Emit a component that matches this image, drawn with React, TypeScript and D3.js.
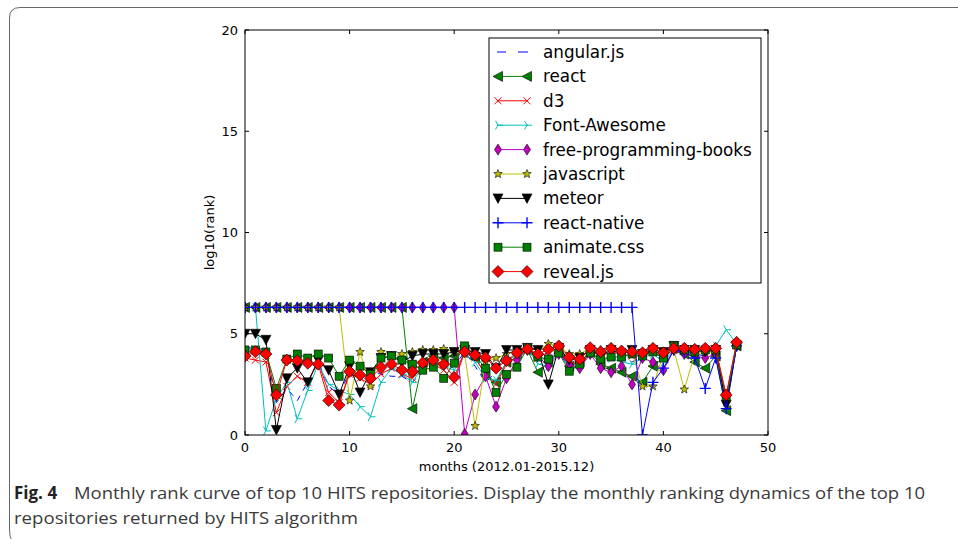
import React from "react";
import * as d3 from "d3";

const months = d3.range(48);

const seriesNames = [
  "angular.js",
  "react",
  "d3",
  "Font-Awesome",
  "free-programming-books",
  "javascript",
  "meteor",
  "react-native",
  "animate.css",
  "reveal.js",
];

const P = 6.3;
const plateau = (n: number) => Array(n).fill(P);

const angularjs = [4.3, 4.3, 4.2, 1.6, 2.3, 1.7, 2.6, 3.6, 2.4, 2.0, 3.1, 2.7, 3.2, 3.0, 2.9, 2.9, 2.6, 3.2, 3.5, 3.3, 3.4, 4.1, 3.4, 2.6, 3.1, 3.5, 3.9, 4.2, 3.6, 3.9, 4.1, 3.3, 3.3, 4.0, 3.8, 3.7, 3.8, 3.6, 3.9, 4.0, 3.9, 4.2, 4.1, 4.0, 3.9, 4.0, 1.4, 4.4];
const react = [...plateau(16), 1.3, 3.6, 3.9, 3.8, 3.9, 4.2, 3.8, 3.0, 2.6, 3.6, 4.0, 4.2, 3.1, 3.6, 4.1, 3.4, 3.6, 4.1, 3.5, 3.3, 3.1, 2.9, 2.6, 3.4, 3.8, 4.3, 4.0, 3.6, 3.3, 3.9, 1.2, 4.4];
const d3repo = [3.8, 3.7, 3.6, 1.1, 2.4, 2.9, 2.6, 3.6, 2.1, 1.6, 3.0, 2.8, 2.5, 3.0, 3.3, 3.0, 2.8, 3.4, 3.5, 3.2, 2.6, 4.1, 3.8, 3.0, 2.5, 3.5, 3.9, 4.2, 3.8, 4.1, 4.3, 3.6, 3.5, 4.2, 3.9, 4.1, 4.0, 3.9, 3.9, 4.2, 3.9, 4.2, 4.2, 4.1, 4.2, 4.2, 1.8, 4.5];
const fontAwesome = [6.3, 6.3, 0.2, 1.8, 2.6, 0.8, 2.2, 3.5, 2.5, 2.2, 2.0, 1.4, 0.9, 2.6, 3.3, 3.0, 2.6, 3.4, 3.7, 3.4, 3.2, 4.0, 3.6, 2.8, 2.7, 3.6, 4.0, 4.3, 3.5, 3.4, 4.2, 3.3, 3.4, 4.1, 3.7, 3.8, 3.6, 3.5, 3.8, 4.0, 3.6, 4.2, 4.1, 4.2, 4.1, 4.4, 5.2, 4.5];
const freeProgrammingBooks = [...plateau(21), 0.05, 2.0, 2.9, 1.4, 2.8, 3.7, 4.2, 3.9, 3.4, 4.0, 3.5, 3.3, 4.0, 3.3, 3.1, 3.4, 2.5, 3.8, 3.6, 3.2, 4.2, 4.0, 3.9, 3.8, 4.0, 1.6, 4.4];
const javascript = [...plateau(10), 1.7, 4.1, 2.4, 4.1, 3.9, 4.0, 4.1, 4.2, 4.2, 4.25, 4.1, 4.0, 0.45, 3.6, 3.8, 4.0, 4.2, 4.3, 4.2, 4.5, 4.4, 4.0, 4.0, 4.3, 4.2, 4.3, 4.2, 4.1, 2.4, 2.4, 4.0, 4.2, 2.25, 4.0, 4.1, 4.1, 1.6, 4.4];
const meteor = [5.0, 5.0, 4.7, 0.25, 2.8, 3.3, 2.6, 3.7, 3.2, 2.0, 3.4, 2.1, 3.1, 3.8, 3.9, 3.6, 3.9, 4.0, 4.0, 4.0, 4.1, 4.2, 4.1, 4.0, 3.3, 4.2, 4.2, 4.3, 4.2, 2.5, 4.3, 3.7, 3.8, 4.2, 3.9, 4.2, 4.0, 4.2, 4.0, 4.2, 4.1, 4.4, 4.2, 4.2, 4.1, 4.2, 1.5, 4.4];
const reactNative = [...plateau(38), 0.0, 2.6, 3.3, 4.2, 4.1, 3.8, 2.3, 3.8, 1.3, 4.4];
const animateCss = [4.2, 4.2, 4.1, 2.3, 3.75, 4.0, 3.8, 4.0, 3.8, 2.9, 3.7, 3.4, 3.0, 3.8, 3.9, 3.7, 3.5, 3.2, 3.35, 2.8, 3.55, 4.4, 3.9, 3.3, 2.1, 3.0, 3.35, 4.3, 3.85, 3.75, 4.05, 3.15, 3.5, 4.05, 3.75, 3.85, 3.85, 4.0, 3.9, 4.1, 3.8, 4.4, 4.2, 4.1, 4.2, 4.2, 1.9, 4.45];
const revealJs = [3.9, 4.11, 4.0, 1.98, 3.7, 3.67, 3.54, 3.5, 1.7, 1.48, 3.13, 2.96, 2.8, 3.34, 3.5, 3.21, 3.13, 3.57, 3.7, 3.5, 2.85, 4.11, 3.95, 3.82, 3.3, 3.67, 4.06, 4.25, 4.0, 4.23, 4.4, 3.84, 3.74, 4.31, 4.11, 4.28, 4.15, 4.11, 4.06, 4.28, 4.06, 4.28, 4.28, 4.23, 4.28, 4.28, 1.98, 4.58];

const seriesValues = [angularjs, react, d3repo, fontAwesome, freeProgrammingBooks, javascript, meteor, reactNative, animateCss, revealJs];

const xTicks = [0, 10, 20, 30, 40, 50];
const yTicks = [0, 5, 10, 15, 20];

type Style = { color: string; marker: string; dash?: string };
const styles: Style[] = [
  { color: "#0000ff", marker: "none", dash: "6,6" },
  { color: "#008000", marker: "<" },
  { color: "#ff0000", marker: "x" },
  { color: "#00bfbf", marker: "4" },
  { color: "#bf00bf", marker: "d" },
  { color: "#bfbf00", marker: "*" },
  { color: "#000000", marker: "v" },
  { color: "#0000ff", marker: "+" },
  { color: "#008000", marker: "s" },
  { color: "#ff0000", marker: "D" },
];

function starPath(ro: number, ri: number) {
  const pts: string[] = [];
  for (let i = 0; i < 10; i++) {
    const r = i % 2 === 0 ? ro : ri;
    const a = -Math.PI / 2 + (i * Math.PI) / 5;
    pts.push(`${(r * Math.cos(a)).toFixed(2)},${(r * Math.sin(a)).toFixed(2)}`);
  }
  return "M" + pts.join("L") + "Z";
}

function markerEl(m: string, color: string, x: number, y: number, key: string) {
  const t = `translate(${x},${y})`;
  const edge = { stroke: "#000", strokeWidth: 0.6 };
  switch (m) {
    case "<":
      return <path key={key} transform={t} d="M-5,0L4.5,-5L4.5,5Z" fill={color} {...edge} />;
    case "v":
      return <path key={key} transform={t} d="M-5,-4.5L5,-4.5L0,5Z" fill={color} {...edge} />;
    case "s":
      return <rect key={key} x={x - 4} y={y - 4} width={8} height={8} fill={color} {...edge} />;
    case "D":
      return <path key={key} transform={t} d="M0,-6L6,0L0,6L-6,0Z" fill={color} {...edge} />;
    case "d":
      return <path key={key} transform={t} d="M0,-5.5L3.5,0L0,5.5L-3.5,0Z" fill={color} {...edge} />;
    case "*":
      return <path key={key} transform={t} d={starPath(4.5, 1.9)} fill={color} {...edge} />;
    case "x":
      return <path key={key} transform={t} d="M-3.5,-3.5L3.5,3.5M-3.5,3.5L3.5,-3.5" stroke={color} strokeWidth={1} fill="none" />;
    case "+":
      return <path key={key} transform={t} d="M-5.5,0L5.5,0M0,-5.5L0,5.5" stroke={color} strokeWidth={1.4} fill="none" />;
    case "4":
      return <path key={key} transform={t} d="M0,0L5,0M0,0L-2.5,-4.33M0,0L-2.5,4.33" stroke={color} strokeWidth={1} fill="none" />;
    default:
      return null;
  }
}

export default function App() {
  const W = 958, H = 539;
  const x = d3.scaleLinear().domain([0, 50]).range([245, 768]);
  const y = d3.scaleLinear().domain([0, 20]).range([435, 30]);
  const line = d3.line<number>().x((_, i) => x(months[i])).y((v) => y(v));

  const [x0, x1] = x.range();
  const [y0, y1] = y.range();

  const legX = 489, legY = 38, legW = 272, legH = 245;
  const rowY = (i: number) => 52 + i * 24.4;

  const tickFont = "'DejaVu Sans', sans-serif";
  const capFont = "'Open Sans', 'Noto Sans', sans-serif";

  return (
    <svg width={W} height={H} style={{ position: "absolute", left: 0, top: 0, background: "#fff" }}>
      <defs>
        <clipPath id="plotclip">
          <rect x={x0} y={y1} width={x1 - x0} height={y0 - y1} />
        </clipPath>
      </defs>
      <rect x={0} y={0} width={W} height={H} fill="#fff" />
      {/* figure frame */}
      <path d={`M${W + 2},7.5L20,7.5Q9.5,7.5 9.5,18L9.5,530Q9.5,537 12,541`} fill="none" stroke="#666" strokeWidth={1} />

      {/* series */}
      <g clipPath="url(#plotclip)">
        {seriesValues.map((vals, si) => {
          const st = styles[si];
          return (
            <g key={si}>
              <path d={line(vals) || ""} fill="none" stroke={st.color} strokeWidth={1} strokeDasharray={st.dash} />
              {vals.map((v, i) => markerEl(st.marker, st.color, x(months[i]), y(v), `${si}-${i}`))}
            </g>
          );
        })}
      </g>

      {/* axes frame */}
      <rect x={x0} y={y1} width={x1 - x0} height={y0 - y1} fill="none" stroke="#000" strokeWidth={1} />
      {xTicks.map((t) => (
        <g key={"xt" + t}>
          <line x1={x(t)} x2={x(t)} y1={y0} y2={y0 - 4} stroke="#000" />
          <line x1={x(t)} x2={x(t)} y1={y1} y2={y1 + 4} stroke="#000" />
          <text x={x(t)} y={y0 + 17} fontFamily={tickFont} fontSize={13} textAnchor="middle">{t}</text>
        </g>
      ))}
      {yTicks.map((t) => (
        <g key={"yt" + t}>
          <line x1={x0} x2={x0 + 4} y1={y(t)} y2={y(t)} stroke="#000" />
          <line x1={x1} x2={x1 - 4} y1={y(t)} y2={y(t)} stroke="#000" />
          <text x={x0 - 7} y={y(t)} dy="0.36em" fontFamily={tickFont} fontSize={13} textAnchor="end">{t}</text>
        </g>
      ))}
      <text x={(x0 + x1) / 2} y={471} fontFamily={tickFont} fontSize={13} textAnchor="middle">months (2012.01-2015.12)</text>
      <text transform={`translate(214,${(y0 + y1) / 2}) rotate(-90)`} fontFamily={tickFont} fontSize={13} textAnchor="middle">log10(rank)</text>

      {/* legend */}
      <rect x={legX} y={legY} width={legW} height={legH} fill="#fff" stroke="#000" strokeWidth={1} />
      {seriesNames.map((name, i) => {
        const st = styles[i];
        const ry = rowY(i);
        return (
          <g key={"lg" + i}>
            {st.dash ? (
              <g>
                <line x1={497} x2={506} y1={ry} y2={ry} stroke={st.color} strokeWidth={1} />
                <line x1={518} x2={528} y1={ry} y2={ry} stroke={st.color} strokeWidth={1} />
              </g>
            ) : (
              <line x1={497} x2={528} y1={ry} y2={ry} stroke={st.color} strokeWidth={1} />
            )}
            {markerEl(st.marker, st.color, 498, ry, "lm1" + i)}
            {markerEl(st.marker, st.color, 527, ry, "lm2" + i)}
            <text x={543} y={ry} dy="0.36em" fontFamily={tickFont} fontSize={16.8}>{name}</text>
          </g>
        );
      })}

      {/* caption */}
      <text x={14} y={499} fontFamily={capFont} fontSize={17} fontWeight="bold" fill="#222">Fig. 4</text>
      <text x={74} y={499} fontFamily={capFont} fontSize={17} fill="#3a3a3a" textLength={851} lengthAdjust="spacingAndGlyphs">Monthly rank curve of top 10 HITS repositories. Display the monthly ranking dynamics of the top 10</text>
      <text x={14} y={524} fontFamily={capFont} fontSize={17} fill="#3a3a3a" textLength={344} lengthAdjust="spacingAndGlyphs">repositories returned by HITS algorithm</text>
    </svg>
  );
}
